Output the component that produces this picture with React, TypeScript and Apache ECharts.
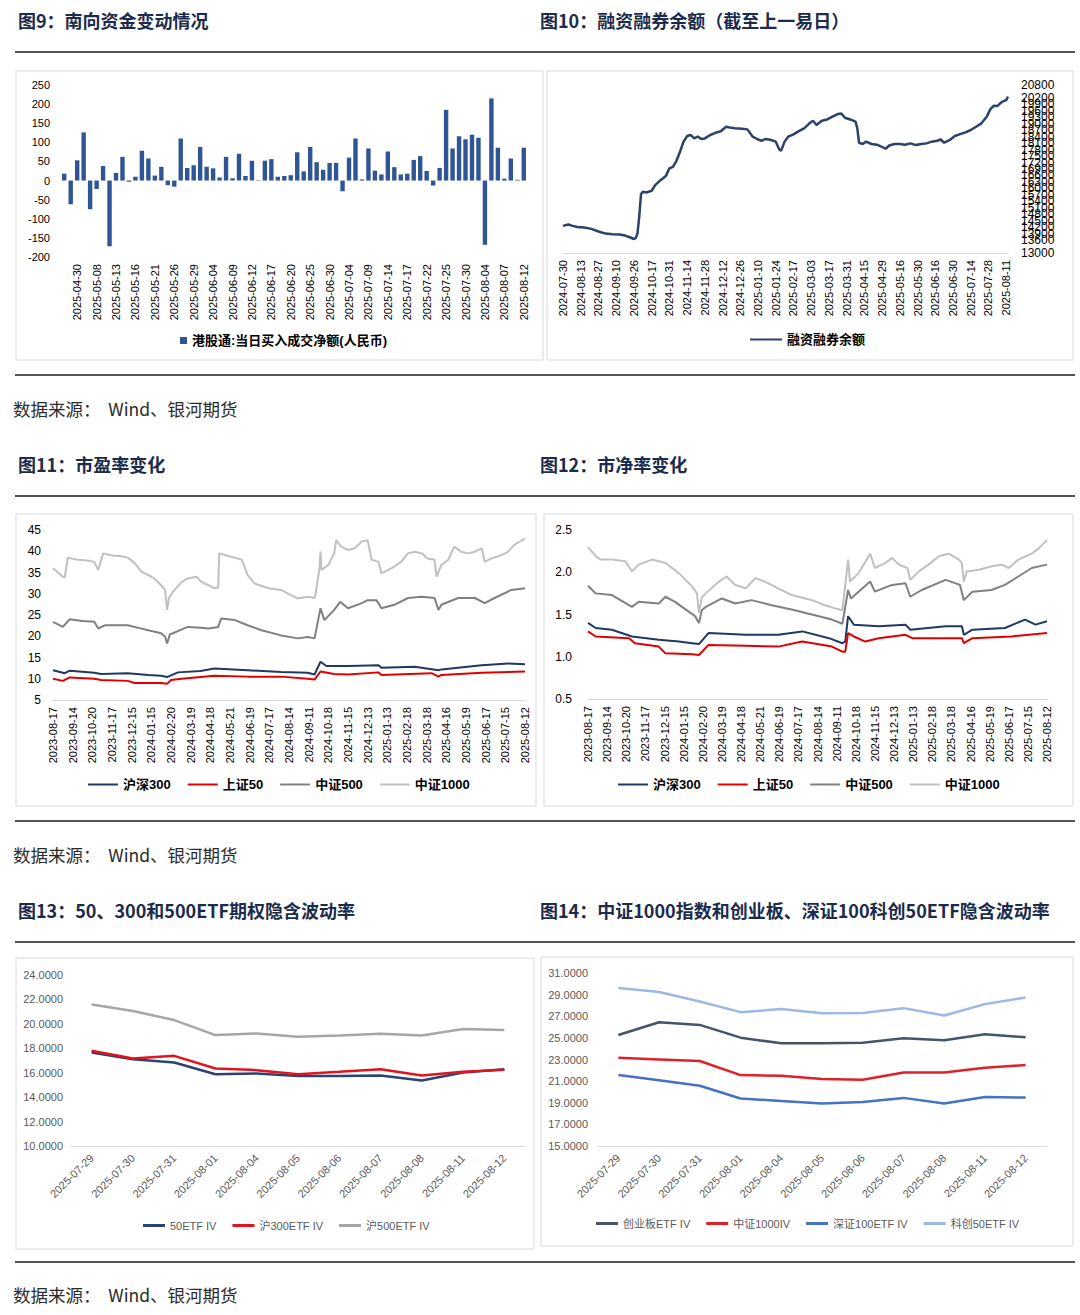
import React, { useEffect, useRef } from 'react';
import * as echarts from 'echarts';

// ---------- Fig 9: southbound flows ----------
const flowDates = [
  '2025-04-28','2025-04-29','2025-04-30','2025-05-06','2025-05-07','2025-05-08','2025-05-09','2025-05-12','2025-05-13','2025-05-14',
  '2025-05-15','2025-05-16','2025-05-19','2025-05-20','2025-05-21','2025-05-22','2025-05-23','2025-05-26','2025-05-27','2025-05-28',
  '2025-05-29','2025-05-30','2025-06-03','2025-06-04','2025-06-05','2025-06-06','2025-06-09','2025-06-10','2025-06-11','2025-06-12',
  '2025-06-13','2025-06-16','2025-06-17','2025-06-18','2025-06-19','2025-06-20','2025-06-23','2025-06-24','2025-06-25','2025-06-26',
  '2025-06-27','2025-06-30','2025-07-02','2025-07-03','2025-07-04','2025-07-07','2025-07-08','2025-07-09','2025-07-10','2025-07-11',
  '2025-07-14','2025-07-15','2025-07-16','2025-07-17','2025-07-18','2025-07-21','2025-07-22','2025-07-23','2025-07-24','2025-07-25',
  '2025-07-28','2025-07-29','2025-07-30','2025-07-31','2025-08-01','2025-08-04','2025-08-05','2025-08-06','2025-08-07','2025-08-08',
  '2025-08-11','2025-08-12',
];
const flowValues = [
  18, -62, 53, 126, -75, -22, 38, -172, 20, 62,
  -3, 10, 78, 58, 13, 36, -12, -16, 110, 33,
  40, 88, 36, 32, 8, 62, 6, 70, 12, 52,
  1, 52, 56, 10, 12, 14, 74, 24, 88, 48,
  28, 46, 46, -28, 60, 110, 3, 84, 26, 16,
  76, 35, 16, 18, 54, 64, 25, -13, 33, 185,
  84, 116, 108, 120, 112, -168, 215, 86, 5, 58,
  2, 86,
];
const flowName = '港股通:当日买入成交净额(人民币)';

// ---------- Fig 10: margin balance (trading-day index, value) ----------
const marginLabels = [
  '2024-07-30','2024-08-13','2024-08-27','2024-09-10','2024-09-26','2024-10-17','2024-10-31','2024-11-14','2024-11-28','2024-12-12',
  '2024-12-26','2025-01-10','2025-01-24','2025-02-17','2025-03-03','2025-03-17','2025-03-31','2025-04-15','2025-04-29','2025-05-16',
  '2025-05-30','2025-06-16','2025-06-30','2025-07-14','2025-07-28','2025-08-11',
];
const marginTicks = [
  13000, 13300, 13600, 13900, 14200, 14500, 14800, 15100, 15400, 15700, 16000, 16300, 16600, 16900,
  17200, 17500, 17800, 18100, 18400, 18700, 19000, 19300, 19600, 19900, 20200, 20500, 20800,
];
const marginBalance = [
  [0,14260],[3,14320],[5,14270],[8,14210],[12,14180],[16,14120],[20,14000],[24,13900],[28,13870],[32,13860],
  [35,13810],[38,13720],[40,13650],[41,13690],[42,13900],[43,14680],[44,15730],[45,15840],[47,15810],[50,15890],
  [52,16150],[55,16380],[58,16570],[60,16930],[62,17000],[64,17280],[66,17700],[68,18170],[70,18430],[72,18480],
  [74,18320],[76,18410],[78,18290],[80,18320],[83,18480],[86,18580],[89,18650],[92,18860],[94,18830],[97,18790],
  [101,18770],[104,18740],[107,18400],[110,18270],[112,18210],[114,18290],[117,18260],[120,18170],[122,17810],[123,17750],
  [125,18170],[127,18400],[130,18510],[133,18660],[136,18790],[139,19020],[141,19140],[143,18940],[146,19140],[149,19200],
  [152,19330],[155,19450],[157,19480],[159,19280],[162,19200],[165,19100],[166,18790],[167,18120],[169,18060],[171,18170],
  [174,18060],[177,18030],[180,17930],[182,17840],[184,17990],[187,18060],[190,18060],[193,18030],[196,18090],[199,18010],
  [202,18060],[205,18090],[208,18170],[211,18210],[213,18270],[215,18120],[218,18240],[221,18430],[224,18520],[227,18600],
  [230,18710],[233,18860],[236,19020],[239,19330],[241,19670],[243,19840],[245,19820],[247,19980],[249,20070],[250,20100],
  [251,20260],
];

// ---------- Fig 11 / 12: PE and PB (trading-day index, value) ----------
const valLabels = [
  '2023-08-17','2023-09-14','2023-10-20','2023-11-17','2023-12-15','2024-01-15','2024-02-20','2024-03-19','2024-04-18','2024-05-21',
  '2024-06-19','2024-07-17','2024-08-14','2024-09-11','2024-10-18','2024-11-15','2024-12-13','2025-01-13','2025-02-18','2025-03-18',
  '2025-04-16','2025-05-19','2025-06-17','2025-07-15','2025-08-12',
];
const pe300 = [
  [0,12.0],[12,11.3],[17,11.9],[42,11.4],[49,11.1],[76,11.3],[97,10.9],[110,10.7],[116,10.4],[127,11.5],
  [150,11.8],[164,12.4],[198,12.0],[232,11.6],[259,11.4],[266,11.0],[272,14.0],[278,13.0],[300,13.0],[331,13.2],
  [334,12.6],[368,12.8],[392,12.0],[395,12.2],[436,13.2],[463,13.6],[480,13.4],
];
const pe50 = [
  [0,10.0],[10,9.5],[17,10.3],[42,10.0],[49,9.7],[76,9.5],[83,9.0],[110,9.0],[116,8.8],[120,9.7],
  [131,10.0],[164,10.7],[198,10.5],[232,10.5],[259,10.0],[266,9.8],[272,11.7],[286,11.1],[300,11.0],[331,11.5],
  [334,10.9],[385,11.3],[392,10.5],[395,10.9],[436,11.4],[480,11.7],
];
const pe500 = [
  [0,23.4],[10,22.2],[17,24.0],[30,23.6],[42,23.4],[46,21.8],[53,22.6],[65,22.6],[76,22.6],[90,21.8],
  [97,21.4],[110,20.7],[114,19.9],[116,18.3],[119,20.5],[122,20.7],[131,21.6],[137,22.2],[150,22.0],[158,21.8],
  [168,22.2],[171,24.2],[185,23.8],[198,22.6],[212,21.4],[232,20.2],[249,19.5],[259,19.8],[266,19.5],[272,26.6],
  [276,23.8],[286,26.2],[292,28.1],[300,26.6],[314,27.8],[320,28.5],[329,28.5],[334,26.6],[347,27.4],[361,29.0],
  [375,29.3],[388,29.0],[392,26.2],[395,27.4],[412,29.0],[429,29.0],[439,27.8],[449,29.0],[466,30.9],[480,31.3],
];
const pe1000 = [
  [0,36.0],[10,34.0],[12,33.8],[15,38.5],[25,38.0],[35,37.8],[42,37.5],[46,35.6],[51,39.5],[60,39.0],
  [70,38.8],[76,38.5],[83,37.2],[90,35.2],[97,34.4],[103,33.6],[110,32.0],[114,30.9],[116,26.2],[118,29.0],
  [122,30.5],[131,32.8],[137,33.6],[146,34.0],[151,32.8],[158,32.0],[164,31.3],[168,31.5],[169,39.5],[181,38.7],
  [192,38.0],[198,34.4],[205,32.4],[219,31.3],[232,30.9],[242,29.7],[249,28.9],[259,29.3],[266,29.0],[267,30.0],
  [271,36.0],[272,39.9],[273,35.6],[280,36.8],[286,39.5],[288,42.6],[293,41.1],[300,40.3],[307,40.7],[314,42.3],
  [320,42.6],[324,38.0],[331,37.5],[334,34.8],[341,35.6],[347,36.4],[354,37.5],[361,39.5],[368,39.9],[375,39.5],
  [381,38.3],[388,38.0],[390,34.0],[395,36.8],[402,38.0],[408,41.1],[415,39.9],[422,39.5],[429,39.9],[436,40.7],
  [439,37.5],[446,38.3],[456,39.1],[463,39.9],[469,41.5],[480,43.0],
];
const pb300 = [
  [0,1.40],[8,1.34],[25,1.32],[46,1.24],[74,1.20],[95,1.18],[109,1.16],[116,1.15],[126,1.28],[165,1.26],
  [199,1.26],[224,1.30],[252,1.22],[266,1.16],[269,1.18],[272,1.48],[278,1.38],[304,1.36],[332,1.38],[337,1.32],
  [374,1.36],[391,1.36],[393,1.26],[402,1.32],[436,1.34],[457,1.44],[468,1.38],[480,1.42],
];
const pb50 = [
  [0,1.30],[8,1.24],[43,1.22],[49,1.16],[74,1.12],[81,1.04],[109,1.03],[116,1.02],[126,1.14],[165,1.13],
  [199,1.12],[224,1.18],[255,1.12],[266,1.06],[269,1.06],[272,1.28],[278,1.24],[290,1.18],[304,1.22],[332,1.26],
  [339,1.22],[391,1.22],[393,1.16],[402,1.22],[443,1.24],[480,1.28],
];
const pb500 = [
  [0,1.84],[8,1.75],[25,1.73],[46,1.59],[53,1.65],[74,1.63],[81,1.71],[91,1.65],[102,1.56],[112,1.48],
  [116,1.40],[119,1.55],[123,1.59],[140,1.69],[154,1.63],[171,1.67],[192,1.61],[213,1.56],[234,1.50],[255,1.44],
  [266,1.39],[272,1.79],[275,1.69],[283,1.77],[295,1.89],[300,1.77],[318,1.85],[332,1.87],[337,1.71],[349,1.79],
  [374,1.91],[389,1.85],[393,1.67],[402,1.77],[422,1.79],[436,1.85],[450,1.95],[464,2.05],[480,2.09],
];
const pb1000 = [
  [0,2.30],[8,2.19],[13,2.15],[25,2.15],[39,2.13],[46,2.01],[53,2.09],[67,2.15],[81,2.11],[95,1.99],
  [102,1.91],[109,1.83],[114,1.75],[116,1.52],[119,1.70],[123,1.75],[137,1.89],[145,1.95],[154,1.85],[165,1.81],
  [175,1.93],[185,1.89],[199,1.81],[213,1.73],[227,1.69],[234,1.67],[248,1.61],[259,1.57],[266,1.55],[272,2.15],
  [274,1.89],[283,1.99],[295,2.22],[300,2.05],[311,2.11],[318,2.17],[325,2.09],[334,2.05],[337,1.91],[346,2.01],
  [356,2.09],[367,2.19],[377,2.22],[388,2.15],[391,2.10],[393,1.89],[396,2.01],[409,2.03],[422,2.07],[433,2.09],
  [440,2.05],[450,2.15],[464,2.22],[471,2.28],[480,2.38],
];

// ---------- Fig 13 / 14: implied volatility ----------
const ivDates = ['2025-07-29','2025-07-30','2025-07-31','2025-08-01','2025-08-04','2025-08-05','2025-08-06','2025-08-07','2025-08-08','2025-08-11','2025-08-12'];
const iv50 = [17.66, 17.11, 16.84, 15.88, 15.93, 15.74, 15.74, 15.77, 15.36, 16.02, 16.29];
const iv300 = [17.79, 17.16, 17.38, 16.34, 16.21, 15.88, 16.07, 16.29, 15.77, 16.07, 16.25];
const iv500 = [21.59, 21.05, 20.31, 19.08, 19.21, 18.94, 19.05, 19.19, 19.05, 19.57, 19.49];
const ivCyb = [25.27, 26.45, 26.20, 25.02, 24.50, 24.50, 24.56, 24.96, 24.78, 25.33, 25.06];
const iv1000 = [23.17, 23.01, 22.86, 21.56, 21.50, 21.19, 21.12, 21.80, 21.80, 22.24, 22.49];
const ivSz100 = [21.56, 21.09, 20.57, 19.39, 19.17, 18.93, 19.08, 19.45, 18.93, 19.54, 19.48];
const ivKc50 = [29.61, 29.24, 28.37, 27.38, 27.66, 27.28, 27.31, 27.75, 27.07, 28.12, 28.74];
const iv14Ticks = [15, 17, 19, 21, 23, 25, 27, 29, 31];

const FONT = 'Arial, "Liberation Sans", "Noto Sans CJK SC", sans-serif';
const NARROW = '"Liberation Sans Narrow", "Arial Narrow", Arial, "Noto Sans CJK SC", sans-serif';
const CJK = '"Noto Sans CJK SC", sans-serif';

function buildOption() {
  const titles: [number, number, string][] = [
    [18, 20, '图9：南向资金变动情况'],
    [540, 20, '图10：融资融券余额（截至上一易日）'],
    [18, 464, '图11：市盈率变化'],
    [540, 464, '图12：市净率变化'],
    [18, 910, '图13：50、300和500ETF期权隐含波动率'],
    [540, 910, '图14：中证1000指数和创业板、深证100科创50ETF隐含波动率'],
  ];
  const rules = [52, 375, 496, 821, 942, 1262];
  const sources = [408, 854, 1294];
  const boxes: [number, number, number, number][] = [
    [16, 71, 527, 289], [547, 71, 526, 289],
    [16, 514, 520, 292], [544, 514, 529, 292],
    [16, 958, 518, 291], [541, 957, 532, 289],
  ];
  const graphic: any[] = [];
  boxes.forEach(([x, y, w, h]) => graphic.push({
    type: 'rect', silent: true, z: -10,
    shape: { x, y, width: w, height: h },
    style: { fill: 'none', stroke: '#d9d9d9', lineWidth: 1 },
  }));
  rules.forEach((y) => graphic.push({
    type: 'line', silent: true,
    shape: { x1: 15, y1: y, x2: 1075, y2: y },
    style: { stroke: '#1a1a1a', lineWidth: 1.5 },
  }));
  titles.forEach(([x, y, t]) => graphic.push({
    type: 'text', x, y, silent: true,
    style: { text: t, fill: '#1b2b4b', fontSize: 18, fontWeight: 'bold', fontFamily: CJK, verticalAlign: 'middle' },
  }));
  sources.forEach((y) => graphic.push({
    type: 'text', x: 13, y, silent: true,
    style: { text: '数据来源：  Wind、银河期货', fill: '#2b2b2b', fontSize: 17.5, fontFamily: CJK, verticalAlign: 'middle' },
  }));

  const plainAxis = {
    axisTick: { show: false },
    splitLine: { show: false },
  };
  const valueX = (gridIndex: number, max: number, interval: number, labels: string[]) => ({
    type: 'value', gridIndex, min: 0, max, interval, ...plainAxis,
    axisLine: { show: true, onZero: false, lineStyle: { color: '#d9d9d9' } },
    axisLabel: {
      rotate: 90, fontSize: 11, color: '#000', margin: 7, fontFamily: FONT,
      formatter: (v: number) => (v % interval === 0 ? labels[v / interval] ?? '' : ''),
    },
  });
  const catX = (gridIndex: number) => ({
    type: 'category', gridIndex, data: ivDates, boundaryGap: true, ...plainAxis,
    axisLine: { show: true, onZero: false, lineStyle: { color: '#d9d9d9' } },
    axisLabel: { rotate: 45, fontSize: 11, color: '#595959', margin: 10, fontFamily: NARROW, interval: 0 },
  });

  const lineSeries = (name: string, xi: number, data: any[], color: string, width = 2) => ({
    type: 'line', name, xAxisIndex: xi, yAxisIndex: xi, data, symbol: 'none', showSymbol: false,
    lineStyle: { color, width }, itemStyle: { color }, z: 3,
  });

  const boldLegend = { fontSize: 13, fontWeight: 'bold', color: '#000', fontFamily: FONT };
  const ivLegend = { fontSize: 11, color: '#595959', fontFamily: NARROW };

  return {
    animation: false,
    backgroundColor: '#ffffff',
    textStyle: { fontFamily: FONT },
    graphic,
    grid: [
      { left: 61, top: 85, width: 466, height: 172 },
      { left: 563, top: 85, width: 445, height: 168 },
      { left: 53, top: 530, width: 472, height: 170 },
      { left: 588, top: 530, width: 459, height: 169 },
      { left: 71, top: 975, width: 454, height: 171 },
      { left: 598, top: 973, width: 448, height: 173 },
    ],
    xAxis: [
      {
        type: 'category', gridIndex: 0, data: flowDates, boundaryGap: true, ...plainAxis,
        axisLine: { show: false, onZero: false },
        axisLabel: {
          rotate: 90, fontSize: 11, color: '#000', margin: 7, fontFamily: FONT,
          interval: (i: number) => i % 3 === 2,
        },
      },
      valueX(1, 251, 10, marginLabels),
      valueX(2, 480, 20, valLabels),
      valueX(3, 480, 20, valLabels),
      catX(4),
      catX(5),
    ],
    yAxis: [
      {
        type: 'value', gridIndex: 0, min: -200, max: 250, interval: 50, ...plainAxis,
        axisLine: { show: false },
        axisLabel: { fontSize: 11, color: '#000', margin: 11, fontFamily: FONT },
      },
      {
        type: 'value', gridIndex: 1, position: 'right', min: 13000, max: 20800, ...plainAxis,
        axisLine: { show: false },
        axisLabel: {
          fontSize: 12, color: '#000', margin: 13, fontFamily: FONT, customValues: marginTicks,
          showMinLabel: true, showMaxLabel: true, hideOverlap: false,
          formatter: (v: number) => String(v),
        },
      },
      {
        type: 'value', gridIndex: 2, min: 5, max: 45, interval: 5, ...plainAxis,
        axisLine: { show: false },
        axisLabel: { fontSize: 12, color: '#000', margin: 12, fontFamily: FONT },
      },
      {
        type: 'value', gridIndex: 3, min: 0.5, max: 2.5, interval: 0.5, ...plainAxis,
        axisLine: { show: false },
        axisLabel: { fontSize: 12, color: '#000', margin: 16, fontFamily: FONT, formatter: (v: number) => v.toFixed(1) },
      },
      {
        type: 'value', gridIndex: 4, min: 10, max: 24, interval: 2, ...plainAxis,
        axisLine: { show: false },
        axisLabel: { fontSize: 11, color: '#595959', margin: 8, fontFamily: NARROW, formatter: (v: number) => v.toFixed(4) },
      },
      {
        type: 'value', gridIndex: 5, min: 15, max: 31, ...plainAxis,
        axisLine: { show: false },
        axisLabel: {
          fontSize: 11, color: '#595959', margin: 10, fontFamily: NARROW, customValues: iv14Ticks,
          showMinLabel: true, showMaxLabel: true, formatter: (v: number) => v.toFixed(4),
        },
      },
    ],
    legend: [
      {
        data: [flowName], left: 180, top: 334, padding: 0, icon: 'rect', itemWidth: 7, itemHeight: 7,
        textStyle: { ...boldLegend, fontSize: 13 }, selectedMode: false,
      },
      {
        data: ['融资融券余额'], left: 750, top: 333, padding: 0, icon: 'rect', itemWidth: 32, itemHeight: 2,
        textStyle: boldLegend, selectedMode: false,
      },
      {
        data: ['沪深300', '上证50', '中证500', '中证1000'], left: 88, top: 778, padding: 0, icon: 'rect', itemWidth: 30, itemHeight: 2,
        itemGap: 17, textStyle: boldLegend, selectedMode: false,
      },
      {
        data: ['沪深300', '上证50', '中证500', '中证1000'], left: 618, top: 778, padding: 0, icon: 'rect', itemWidth: 30, itemHeight: 2,
        itemGap: 17, textStyle: boldLegend, selectedMode: false,
      },
      {
        data: ['50ETF IV', '沪300ETF IV', '沪500ETF IV'], left: 143, top: 1220, padding: 0, icon: 'rect', itemWidth: 22, itemHeight: 3,
        itemGap: 16, textStyle: ivLegend, selectedMode: false,
      },
      {
        data: ['创业板ETF IV', '中证1000IV', '深证100ETF IV', '科创50ETF IV'], left: 596, top: 1218, padding: 0, icon: 'rect', itemWidth: 22, itemHeight: 3,
        itemGap: 16, textStyle: ivLegend, selectedMode: false,
      },
    ],
    series: [
      {
        type: 'bar', name: flowName, xAxisIndex: 0, yAxisIndex: 0, data: flowValues,
        barWidth: '68%', itemStyle: { color: '#2f5597' },
      },
      lineSeries('融资融券余额', 1, marginBalance, '#2b426c', 2.5),
      lineSeries('中证1000', 2, pe1000, '#c0c0c0'),
      lineSeries('中证500', 2, pe500, '#808080'),
      lineSeries('沪深300', 2, pe300, '#1f3864'),
      lineSeries('上证50', 2, pe50, '#e00000'),
      lineSeries('中证1000', 3, pb1000, '#c0c0c0'),
      lineSeries('中证500', 3, pb500, '#808080'),
      lineSeries('沪深300', 3, pb300, '#1f3864'),
      lineSeries('上证50', 3, pb50, '#e00000'),
      lineSeries('50ETF IV', 4, iv50, '#2a4372', 2.5),
      lineSeries('沪300ETF IV', 4, iv300, '#e0141e', 2.5),
      lineSeries('沪500ETF IV', 4, iv500, '#a6a6a6', 2.5),
      lineSeries('创业板ETF IV', 5, ivCyb, '#44546a', 2.5),
      lineSeries('中证1000IV', 5, iv1000, '#e0202a', 2.5),
      lineSeries('深证100ETF IV', 5, ivSz100, '#4472c4', 2.5),
      lineSeries('科创50ETF IV', 5, ivKc50, '#9db7e6', 2.5),
    ],
  };
}

export default function App() {
  const ref = useRef<HTMLDivElement>(null);
  useEffect(() => {
    if (!ref.current) return;
    const chart = echarts.init(ref.current, null, { renderer: 'svg' });
    chart.setOption(buildOption() as any);
    return () => chart.dispose();
  }, []);
  return (
    <div
      ref={ref}
      style={{ position: 'absolute', left: 0, top: 0, width: 1080, height: 1315, background: '#fff' }}
    />
  );
}
